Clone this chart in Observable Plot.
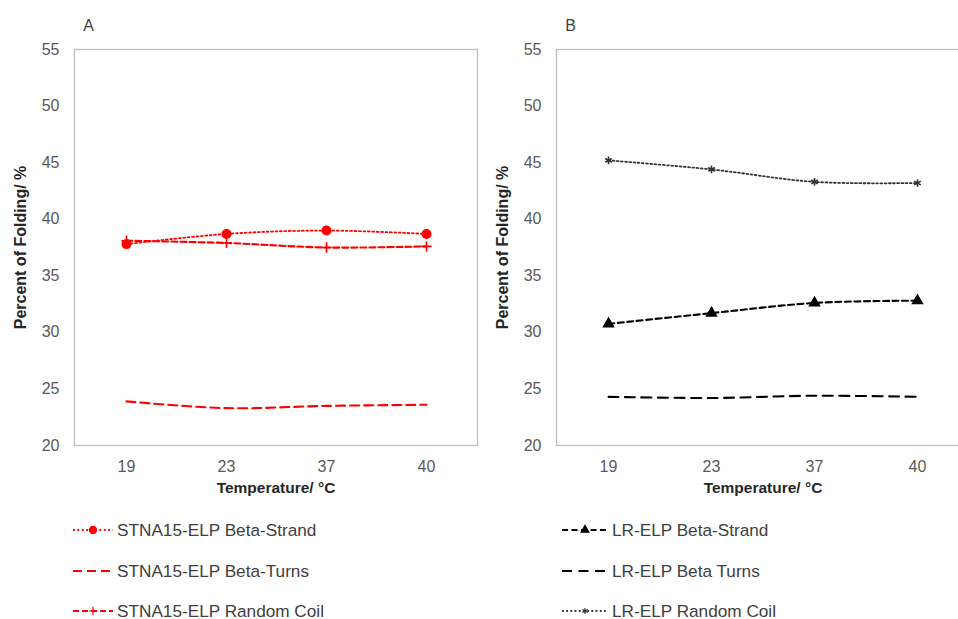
<!DOCTYPE html>
<html><head><meta charset="utf-8">
<script src="https://cdn.jsdelivr.net/npm/d3@7"></script>
<script src="https://cdn.jsdelivr.net/npm/@observablehq/plot@0.6"></script>
<style>
body{margin:0;background:#fff;}
#root{position:relative;width:958px;height:619px;overflow:hidden;background:#fff;font-family:"Liberation Sans",Arial,sans-serif;}
.panel{position:absolute;top:0;}
.row{position:absolute;display:flex;align-items:center;white-space:nowrap;font-size:17.2px;color:#404040;}
.row svg{margin-right:2px;}
</style></head><body><div id="root"></div>
<script>
// ---- data ----
const temps = ["19", "23", "37", "40"];
const yTicks = [20, 25, 30, 35, 40, 45, 50, 55];
const stnaStrand = [37.8, 38.7, 39.0, 38.7];
const stnaTurns = [23.9, 23.3, 23.5, 23.6];
const stnaCoil = [38.1, 37.9, 37.5, 37.6];
const lrStrand = [30.75, 31.7, 32.6, 32.8];
const lrTurns = [24.3, 24.2, 24.4, 24.3];
const lrCoil = [45.2, 44.4, 43.3, 43.2];
const panelLabels = ["A", "B"];
const xTitle = "Temperature/ °C";
const yTitle = "Percent of Folding/ %";

// ---- series styling ----
const seriesA = [
  {name: "STNA15-ELP Beta-Strand", values: stnaStrand, color: "#ff0000", dash: "1.8,2.6", width: 1.8, symbol: "circle", r: 4.2},
  {name: "STNA15-ELP Beta-Turns", values: stnaTurns, color: "#ff0000", dash: "9,5", width: 2.1, symbol: null},
  {name: "STNA15-ELP Random Coil", values: stnaCoil, color: "#ff0000", dash: "6,3", width: 2.1, symbol: "plus", r: 3.4}
];
const seriesB = [
  {name: "LR-ELP Beta-Strand", values: lrStrand, color: "#000000", dash: "6,3.5", width: 2.1, symbol: "triangle", r: 3.6},
  {name: "LR-ELP Beta Turns", values: lrTurns, color: "#000000", dash: "10,6.5", width: 2.1, symbol: null},
  {name: "LR-ELP Random Coil", values: lrCoil, color: "#333333", dash: "1.8,2.4", width: 1.8, symbol: "asterisk", r: 3.6}
];

function rowsOf(s) { return temps.map((t, i) => ({temp: t, value: s.values[i], series: s.name})); }

function panel(series, label, opts) {
  const marks = [Plot.frame({stroke: "#bfbfbf", strokeWidth: 1.3})];
  for (const s of series) {
    const rows = rowsOf(s);
    marks.push(Plot.line(rows, {x: "temp", y: "value", stroke: s.color, strokeWidth: s.width, strokeDasharray: s.dash, curve: "catmull-rom"}));
    if (s.symbol) marks.push(Plot.dot(rows, {x: "temp", y: "value", symbol: s.symbol, r: s.r, fill: s.color, stroke: s.color, strokeWidth: 1.6}));
  }
  marks.push(Plot.axisY({ticks: yTicks, tickSize: 0, tickPadding: 15, label: null, fontSize: 16, fill: "#595959"}));
  marks.push(Plot.axisX({tickSize: 0, tickPadding: 15, label: null, fontSize: 16, fill: "#595959"}));
  marks.push(Plot.text([yTitle], {frameAnchor: "left", dx: -54, rotate: -90, textAnchor: "middle", fontWeight: "bold", fontSize: 16, fill: "#262626"}));
  marks.push(Plot.text([xTitle], {frameAnchor: "bottom", dy: 47, fontWeight: "bold", fontSize: 15.5, fill: "#262626"}));
  marks.push(Plot.text([label], {frameAnchor: "top-left", dx: 14, dy: -24, textAnchor: "middle", lineAnchor: "middle", fontSize: 16, fill: "#404040"}));
  return Plot.plot({
    width: opts.width, height: 500,
    marginTop: 49, marginBottom: 55, marginLeft: opts.ml, marginRight: opts.mr,
    x: {type: "point", domain: temps, padding: 0.5},
    y: {domain: [20, 55]},
    style: {fontFamily: "'Liberation Sans', Arial, sans-serif", fontSize: "16px", background: "transparent", overflow: "visible"},
    marks
  });
}

const root = document.getElementById("root");
const pA = panel(seriesA, panelLabels[0], {width: 490, ml: 74, mr: 13});
pA.classList.add("panel"); pA.style.left = "0px";
root.appendChild(pA);
const pB = panel(seriesB, panelLabels[1], {width: 500, ml: 76, mr: 11});
pB.classList.add("panel"); pB.style.left = "480px";
root.appendChild(pB);

// ---- legends ----
const symMap = {circle: d3.symbolCircle, triangle: d3.symbolTriangle, plus: d3.symbolPlus, asterisk: d3.symbolAsterisk};
function legend(series, left, swW) {
  const rowY = [530, 571, 611];
  series.forEach((s, i) => {
    const div = document.createElement("div");
    div.className = "row";
    div.style.left = left + "px";
    div.style.top = (rowY[i] - 10) + "px";
    div.style.height = "20px";
    const svg = d3.create("svg").attr("width", swW).attr("height", 14);
    svg.append("line").attr("x1", 0).attr("x2", swW - 2).attr("y1", 7).attr("y2", 7)
      .attr("stroke", s.color).attr("stroke-width", s.width).attr("stroke-dasharray", s.dash);
    if (s.symbol) {
      const size = s.symbol === "circle" ? 40 : 26;
      svg.append("path").attr("transform", `translate(${(swW - 2) / 2},7)`)
        .attr("d", d3.symbol(symMap[s.symbol], size)())
        .attr("fill", s.color).attr("stroke", s.color).attr("stroke-width", 1.2);
    }
    div.appendChild(svg.node());
    div.appendChild(document.createTextNode(s.name));
    root.appendChild(div);
  });
}
legend(seriesA, 73, 42);
legend(seriesB, 562, 48);
</script>
</body></html>
